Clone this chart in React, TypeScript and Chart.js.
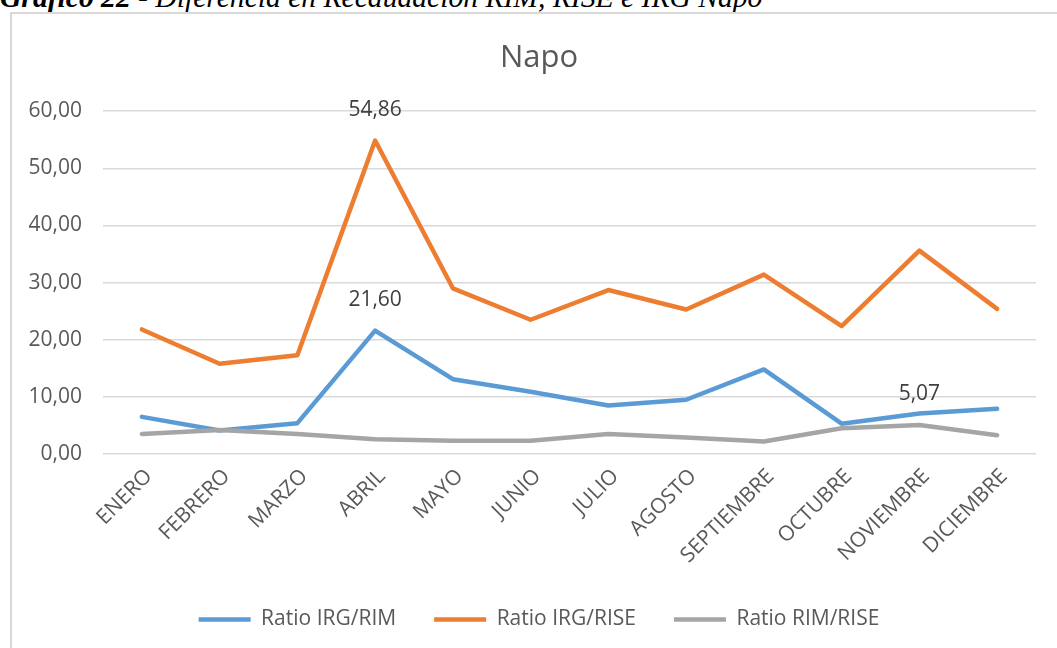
import React, { useEffect, useRef } from "react";
import { Chart, registerables } from "chart.js";

Chart.register(...registerables);

const months = [
  "ENERO", "FEBRERO", "MARZO", "ABRIL", "MAYO", "JUNIO",
  "JULIO", "AGOSTO", "SEPTIEMBRE", "OCTUBRE", "NOVIEMBRE", "DICIEMBRE",
];
const ratioIrgRim = [6.5, 4.1, 5.4, 21.6, 13.1, 10.9, 8.5, 9.5, 14.8, 5.3, 7.1, 7.9];
const ratioIrgRise = [21.8, 15.8, 17.3, 54.86, 29.0, 23.5, 28.7, 25.3, 31.4, 22.4, 35.6, 25.4];
const ratioRimRise = [3.5, 4.2, 3.5, 2.6, 2.3, 2.3, 3.5, 2.9, 2.2, 4.5, 5.07, 3.3];
const seriesNames = ["Ratio IRG/RIM", "Ratio IRG/RISE", "Ratio RIM/RISE"];
const seriesColors = ["#5b9bd5", "#ed7d31", "#a5a5a5"];
// labelled points: [series index, category index]
const labelledPoints: [number, number][] = [[1, 3], [0, 3], [2, 10]];

const FONT = "'Open Sans', 'Liberation Sans', sans-serif";
const fmt = (v: number) => v.toFixed(2).replace(".", ",");

const dataLabelPlugin = {
  id: "dataLabels",
  afterDatasetsDraw(chart: any) {
    const ctx = chart.ctx;
    ctx.save();
    ctx.font = `21px ${FONT}`;
    ctx.fillStyle = "#404040";
    ctx.textAlign = "center";
    ctx.textBaseline = "middle";
    labelledPoints.forEach(([s, i]) => {
      const meta = chart.getDatasetMeta(s);
      const pt = meta.data[i];
      const v = chart.data.datasets[s].data[i] as number;
      ctx.fillText(fmt(v), pt.x, pt.y - 31);
    });
    ctx.restore();
  },
};

export default function App() {
  const canvasRef = useRef<HTMLCanvasElement>(null);

  useEffect(() => {
    const canvas = canvasRef.current!;
    const data = [ratioIrgRim, ratioIrgRise, ratioRimRise];
    const chart = new Chart(canvas, {
      type: "line",
      data: {
        labels: months,
        datasets: data.map((d, k) => ({
          label: seriesNames[k],
          data: d,
          borderColor: seriesColors[k],
          backgroundColor: seriesColors[k],
          borderWidth: 4.5,
          pointRadius: 0,
          pointHoverRadius: 0,
          tension: 0,
          borderJoinStyle: "round" as const,
          borderCapStyle: "round" as const,
          order: 3 - k,
        })),
      },
      options: {
        animation: false,
        responsive: false,
        maintainAspectRatio: false,
        layout: { padding: { left: 0, right: 0, top: 0, bottom: 8 } },
        plugins: {
          title: {
            display: true,
            text: "Napo",
            color: "#595959",
            font: { family: FONT, size: 31, weight: "normal" },
            padding: { top: 26, bottom: 34 },
          },
          legend: {
            display: true,
            position: "bottom",
            labels: {
              color: "#595959",
              font: { family: FONT, size: 21 },
              usePointStyle: true,
              pointStyle: "line",
              pointStyleWidth: 52,
              boxWidth: 52,
              padding: 38,
              sort: (a: any, b: any) => a.datasetIndex - b.datasetIndex,
            },
          },
          tooltip: { enabled: false },
        },
        scales: {
          x: {
            offset: true,
            grid: { display: false },
            border: { display: false },
            ticks: {
              color: "#595959",
              font: { family: FONT, size: 21 },
              maxRotation: 45,
              minRotation: 45,
              padding: 2,
              labelOffset: 7,
              autoSkip: false,
            },
            afterFit: (s: any) => {
              s.height = 117;
            },
          },
          y: {
            min: 0,
            max: 60,
            grid: { color: "#d9d9d9", lineWidth: 1.5, drawTicks: false },
            border: { display: false },
            ticks: {
              stepSize: 10,
              color: "#595959",
              font: { family: FONT, size: 21 },
              padding: 21,
              callback: (v: any) => fmt(Number(v)),
            },
            afterFit: (s: any) => {
              s.width = 91;
            },
          },
          yRight: {
            position: "right",
            min: 0,
            max: 60,
            grid: { display: false, drawTicks: false },
            border: { display: false },
            ticks: { display: false },
            afterFit: (s: any) => {
              s.width = 30;
            },
          },
        },
      },
      plugins: [dataLabelPlugin],
    });
    return () => chart.destroy();
  }, []);

  return (
    <div
      style={{
        position: "fixed",
        left: 0,
        top: 0,
        width: 1057,
        height: 648,
        overflow: "hidden",
        background: "#ffffff",
      }}
    >
      <div
        style={{
          position: "absolute",
          left: 0,
          top: -17,
          fontFamily: "'Liberation Serif', 'Times New Roman', serif",
          fontStyle: "italic",
          fontSize: 29.6,
          lineHeight: "29.6px",
          whiteSpace: "nowrap",
          color: "#000",
        }}
      >
        <b>Gráfico 22</b> - Diferencia en Recaudación RIM, RISE e IRG Napo
      </div>
      <div
        style={{
          position: "absolute",
          left: 10,
          top: 12,
          width: 1100,
          height: 650,
          border: "2px solid #d9d9d9",
          boxSizing: "border-box",
        }}
      />
      <canvas
        ref={canvasRef}
        width={1054}
        height={634}
        style={{ position: "absolute", left: 12, top: 14, width: 1054, height: 634 }}
      />
    </div>
  );
}
